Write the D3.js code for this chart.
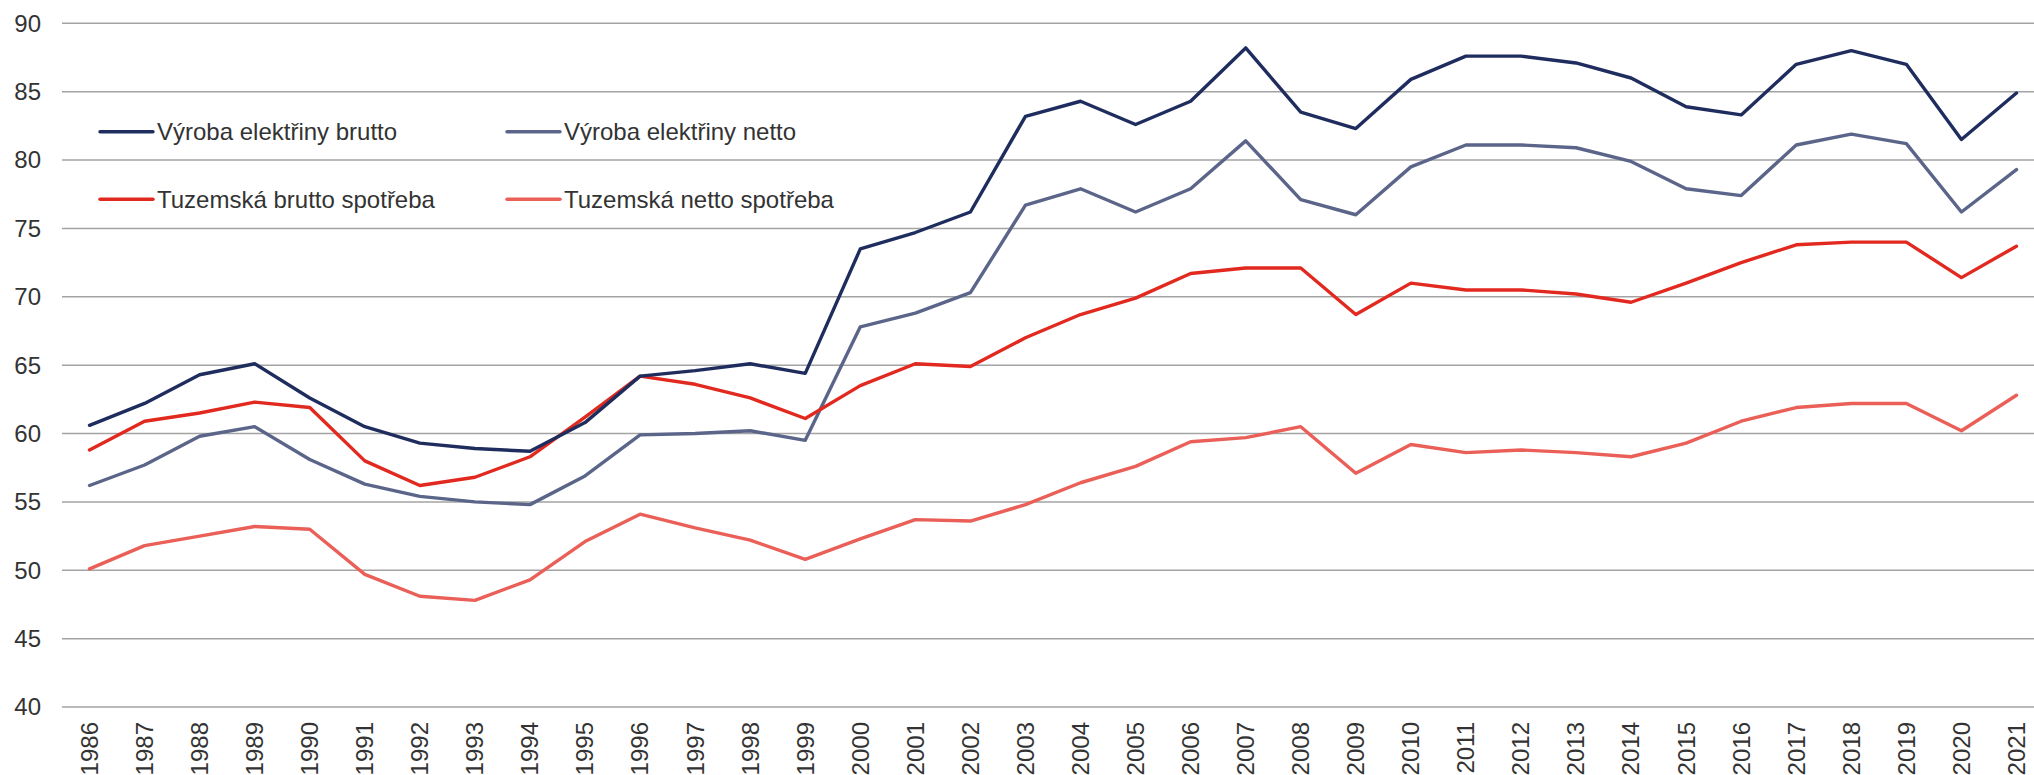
<!DOCTYPE html>
<html>
<head>
<meta charset="utf-8">
<script src="https://cdn.jsdelivr.net/npm/d3@7"></script>
<style>
  html, body { margin: 0; padding: 0; background: #fff; }
  svg { display: block; }
  text { font-family: "Liberation Sans", Arial, sans-serif; fill: #333; }
</style>
</head>
<body>
<svg id="chart"></svg>
<script>
var years = [1986,1987,1988,1989,1990,1991,1992,1993,1994,1995,1996,1997,1998,1999,2000,2001,2002,2003,
             2004,2005,2006,2007,2008,2009,2010,2011,2012,2013,2014,2015,2016,2017,2018,2019,2020,2021];

var vyrobaBrutto = [60.6,62.2,64.3,65.1,62.6,60.5,59.3,58.9,58.7,60.8,64.2,64.6,65.1,64.4,73.5,74.7,76.2,83.2,
                    84.3,82.6,84.3,88.2,83.5,82.3,85.9,87.6,87.6,87.1,86.0,83.9,83.3,87.0,88.0,87.0,81.5,84.9];
var vyrobaNetto = [56.2,57.7,59.8,60.5,58.1,56.3,55.4,55.0,54.8,56.9,59.9,60.0,60.2,59.5,67.8,68.8,70.3,76.7,
                   77.9,76.2,77.9,81.4,77.1,76.0,79.5,81.1,81.1,80.9,79.9,77.9,77.4,81.1,81.9,81.2,76.2,79.3];
var spotrebaBrutto = [58.8,60.9,61.5,62.3,61.9,58.0,56.2,56.8,58.3,61.2,64.2,63.6,62.6,61.1,63.5,65.1,64.9,67.0,
                      68.7,69.9,71.7,72.1,72.1,68.7,71.0,70.5,70.5,70.2,69.6,71.0,72.5,73.8,74.0,74.0,71.4,73.7];
var spotrebaNetto = [50.1,51.8,52.5,53.2,53.0,49.7,48.1,47.8,49.3,52.1,54.1,53.1,52.2,50.8,52.3,53.7,53.6,54.8,
                     56.4,57.6,59.4,59.7,60.5,57.1,59.2,58.6,58.8,58.6,58.3,59.3,60.9,61.9,62.2,62.2,60.2,62.8];

var seriesNames = ["Výroba elektřiny brutto","Výroba elektřiny netto","Tuzemská brutto spotřeba","Tuzemská netto spotřeba"];
var seriesColors = ["#1f2d5e","#5b6589","#e2291f","#ea5f58"];
var yTicks = [40,45,50,55,60,65,70,75,80,85,90];

var width = 2034, height = 775;
var svg = d3.select("#chart").attr("width", width).attr("height", height);

var x = d3.scaleBand().domain(years).range([62, 2044]);
var y = d3.scaleLinear().domain([40, 90]).range([707, 23.3]);

// gridlines
svg.append("g")
  .selectAll("line")
  .data(yTicks)
  .enter()
  .append("line")
  .attr("x1", 62)
  .attr("x2", width)
  .attr("y1", function(d){ return y(d); })
  .attr("y2", function(d){ return y(d); })
  .attr("stroke", "#a3a3a3")
  .attr("stroke-width", 1.5);

// y labels
svg.append("g")
  .selectAll("text")
  .data(yTicks)
  .enter()
  .append("text")
  .attr("x", 41)
  .attr("y", function(d){ return y(d); })
  .attr("dy", "0.35em")
  .attr("text-anchor", "end")
  .style("font-size", "24px")
  .text(function(d){ return d; });

// x labels (rotated)
svg.append("g")
  .selectAll("text")
  .data(years)
  .enter()
  .append("text")
  .attr("transform", function(d){
    return "translate(" + (x(d) + x.bandwidth() / 2) + ",722) rotate(-90)";
  })
  .attr("dy", "0.35em")
  .attr("text-anchor", "end")
  .style("font-size", "24px")
  .text(function(d){ return d; });

var allSeries = [vyrobaBrutto, vyrobaNetto, spotrebaBrutto, spotrebaNetto];

var line = d3.line()
  .x(function(d, i){ return x(years[i]) + x.bandwidth() / 2; })
  .y(function(d){ return y(d); });

// draw back to front so navy sits on top
var order = [3, 1, 2, 0];
order.forEach(function(k){
  svg.append("path")
    .datum(allSeries[k])
    .attr("d", line)
    .attr("fill", "none")
    .attr("stroke", seriesColors[k])
    .attr("stroke-width", 3.4)
    .attr("stroke-linejoin", "round")
    .attr("stroke-linecap", "round");
});

// legend
var legendPos = [[100,131.7],[507,131.7],[100,199.3],[507,199.3]];
var leg = svg.append("g")
  .selectAll("g")
  .data(seriesNames)
  .enter()
  .append("g")
  .attr("transform", function(d, i){ return "translate(" + legendPos[i][0] + "," + legendPos[i][1] + ")"; });

leg.append("line")
  .attr("x1", 0).attr("x2", 53)
  .attr("y1", 0).attr("y2", 0)
  .attr("stroke", function(d, i){ return seriesColors[i]; })
  .attr("stroke-width", 3.4)
  .attr("stroke-linecap", "round");

leg.append("text")
  .attr("x", 57)
  .attr("dy", "0.35em")
  .style("font-size", "24px")
  .text(function(d){ return d; });
</script>
</body>
</html>
